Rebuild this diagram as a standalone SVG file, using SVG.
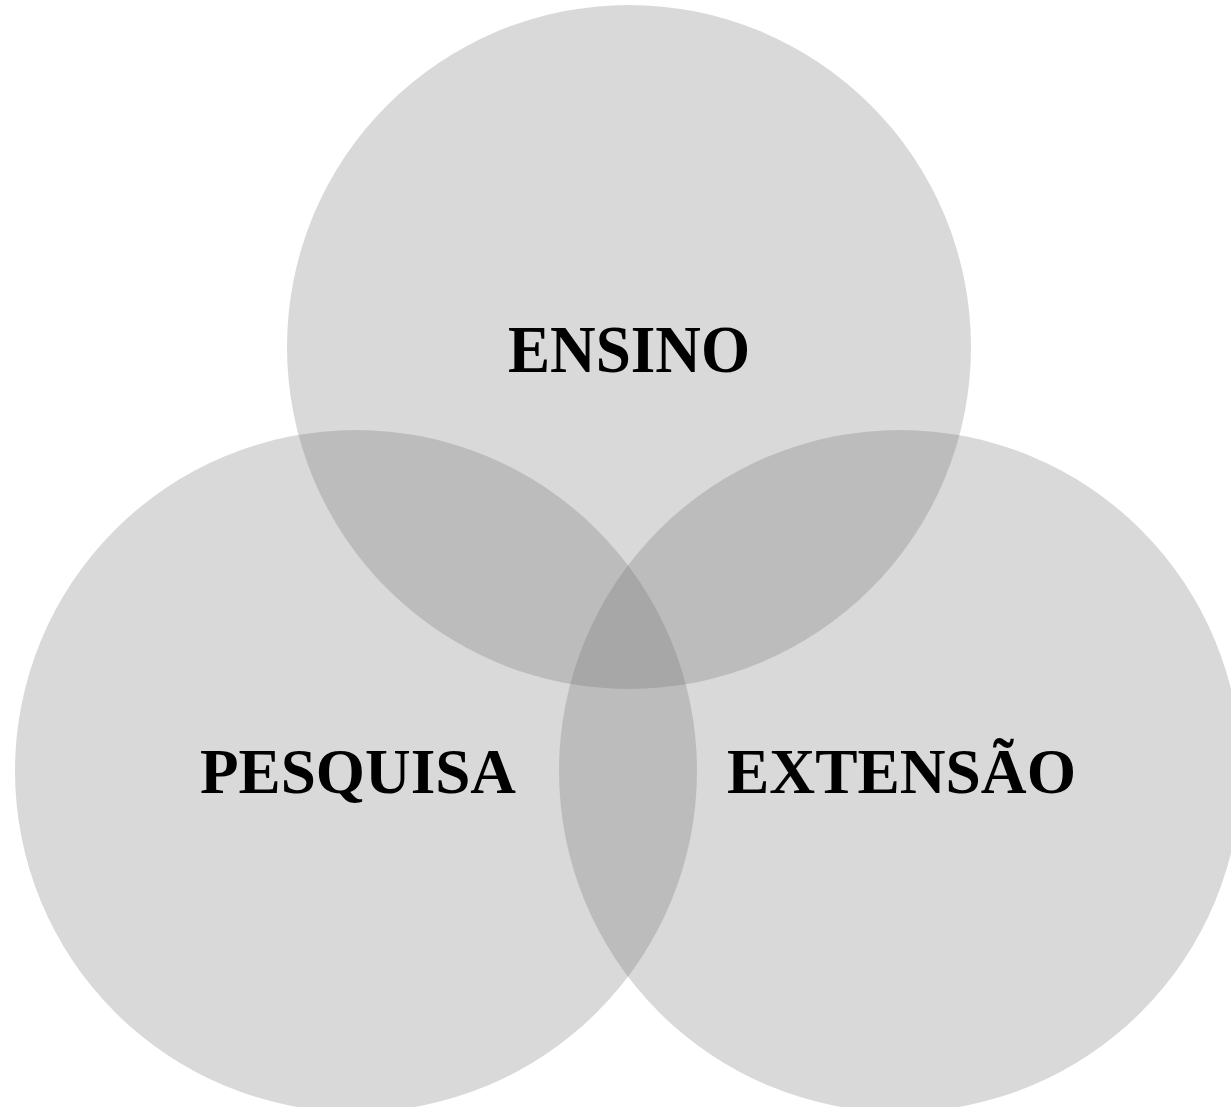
<svg xmlns="http://www.w3.org/2000/svg" width="1231" height="1107" viewBox="0 0 1231 1107">
<style>
.c{fill:#6a6a6a;fill-opacity:0.255}
.t{font-family:"Liberation Serif","Times New Roman",serif;font-weight:bold;font-size:64px;fill:#000;text-anchor:middle}
</style>
<rect width="1231" height="1107" fill="#fff"/>
<g id="ensino"><circle class="c" cx="629" cy="347" r="342"/><text class="t" x="629" y="372" style="font-size:67px" textLength="242" lengthAdjust="spacingAndGlyphs">ENSINO</text></g>
<g id="pesquisa"><circle class="c" cx="356" cy="771" r="341"/><text class="t" x="358" y="793" textLength="316" lengthAdjust="spacingAndGlyphs">PESQUISA</text></g>
<g id="extensao"><circle class="c" cx="900" cy="771" r="341"/><text class="t" x="901.5" y="793" textLength="349" lengthAdjust="spacingAndGlyphs">EXTENSÃO</text></g>
<g id="connectors"/>
</svg>
